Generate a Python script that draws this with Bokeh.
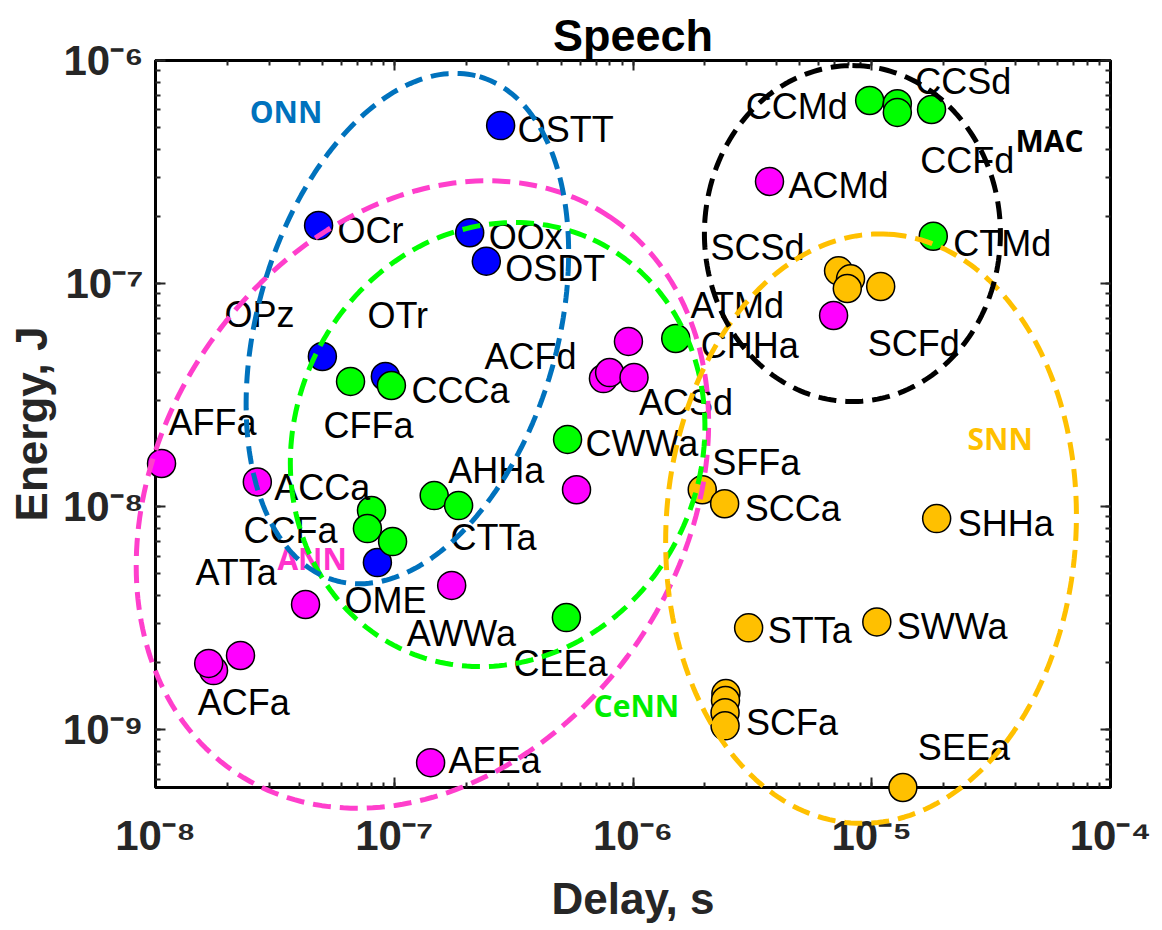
import numpy as np
from bokeh.plotting import figure
from bokeh.models import (ColumnDataSource, Range1d, LogAxis, LogTicker,
                          CustomJSTickFormatter, Label)
from bokeh.core.properties import value
from bokeh.embed import file_html
from bokeh.resources import INLINE

# ---------------- data ----------------
groups = ["ONN", "CeNN", "ANN", "SNN"]
group_colors = ["#0000FF", "#00FF00", "#FF00FF", "#FFC000"]

onn_label = ["OSTT", "OCr", "OOx", "OSDT", "OPz", "OTr", "OME"]
onn_delay = [2.79e-7, 4.82e-8, 2.07e-7, 2.43e-7, 5.0e-8, 9.18e-8, 8.5e-8]
onn_energy = [5.11e-7, 1.82e-7, 1.69e-7, 1.26e-7, 4.71e-8, 3.83e-8, 5.61e-9]

cenn_label = ["CCMd", "CCSd", "CCFd", "", "CTMd", "CHHa", "CFFa", "CCCa",
              "CWWa", "AHHa", "CTTa", "", "CCFa", "", "CEEa"]
cenn_delay = [9.8e-6, 1.28e-5, 1.28e-5, 1.78e-5, 1.81e-5, 1.51e-6, 6.56e-8, 9.73e-8,
              5.32e-7, 1.47e-7, 1.86e-7, 8.03e-8, 7.72e-8, 9.84e-8, 5.26e-7]
cenn_energy = [6.62e-7, 6.4e-7, 5.85e-7, 6.03e-7, 1.63e-7, 5.67e-8, 3.64e-8, 3.49e-8,
               2.0e-8, 1.12e-8, 1.01e-8, 9.6e-9, 7.97e-9, 6.97e-9, 3.18e-9]

ann_label = ["ACMd", "ATMd", "", "", "ACFd", "ACSd", "AFFa", "ACCa",
             "", "AWWa", "ATTa", "", "ACFa", "", "AEEa"]
ann_delay = [3.73e-6, 6.92e-6, 9.57e-7, 7.52e-7, 7.98e-7, 1.01e-6, 1.06e-8, 2.67e-8,
             5.8e-7, 1.74e-7, 4.25e-8, 1.75e-8, 1.67e-8, 2.27e-8, 1.42e-7]
ann_energy = [2.87e-7, 7.19e-8, 5.5e-8, 3.75e-8, 3.99e-8, 3.79e-8, 1.56e-8, 1.29e-8,
              1.19e-8, 4.43e-9, 3.64e-9, 1.84e-9, 1.98e-9, 2.15e-9, 7.11e-10]

snn_label = ["SCSd", "", "", "SCFd", "SFFa", "SCCa", "SHHa", "STTa", "SWWa",
             "", "", "SCFa", "", "SEEa"]
snn_delay = [7.26e-6, 8.15e-6, 7.9e-6, 1.09e-5, 1.95e-6, 2.42e-6, 1.87e-5, 3.05e-6,
             1.05e-5, 2.45e-6, 2.44e-6, 2.43e-6, 2.43e-6, 1.35e-5]
snn_energy = [1.14e-7, 1.05e-7, 9.5e-8, 9.7e-8, 1.19e-8, 1.03e-8, 8.83e-9, 2.86e-9,
              3.04e-9, 1.45e-9, 1.35e-9, 1.19e-9, 1.04e-9, 5.5e-10]

# label placement (pixel offsets from each point's centre)
onn_dx = [17, 19, 19, 19, -98, -18, -33]
onn_dy = [4, 5, 4, 7, -42, -61, 38]
cenn_dx = [-124, 18, 23, 0, 20, 25, -27, 20, 18, 14, -8, 0, -124, 0, -53]
cenn_dy = [6, -22, 48, 0, 7, 7, 44, 5, 4, -25, 32, 0, 2, 0, 46]
ann_dx = [19, -143, 0, 0, -125, 5, 7, 17, 0, -45, -110, 0, -11, 0, 18]
ann_dy = [4, -10, 0, 0, -16, 25, -41, 6, 0, 48, -32, 0, 39, 0, -2]
snn_dx = [-128, 0, 0, -13, 10, 20, 21, 19, 20, 0, 0, 21, 0, 15]
snn_dy = [-23, 0, 0, 57, -27, 5, 5, 3, 5, 0, 0, 10, 0, -40]

# cluster outlines: centre (delay, energy), semi-axes in px, tilt in degrees
ell_names = ["ANN", "CeNN", "ONN", "SNN", "MAC"]
ell_colors = ["#FF3FCC", "#00FF00", "#0072BD", "#FFC000", "#000000"]
ell_cx = [10 ** -6.882, 10 ** -6.567, 10 ** -6.945, 10 ** -5.003, 10 ** -5.081]
ell_cy = [10 ** -7.946, 10 ** -7.722, 10 ** -7.202, 10 ** -8.099, 10 ** -6.776]
ell_a = [335, 226, 262, 295, 168]
ell_b = [261, 203, 150, 205, 148]
ell_phi = [34, 25, 16, 3.4, 0]

# cluster names
glabel_text = ["ONN", "MAC", "ANN", "CeNN", "SNN"]
glabel_x = [2.48e-8, 4.0e-5, 3.24e-8, 6.84e-7, 2.52e-5]
glabel_y = [5.9e-7, 4.38e-7, 5.85e-9, 1.28e-9, 2.02e-8]
glabel_color = ["#0072BD", "#000000", "#FF33CC", "#00EE00", "#FFC000"]

# ---------------- figure ----------------
X0, X1 = 1e-8, 1e-4
Y0, Y1 = 5.5e-10, 1e-6
FW, FH = 955, 727

p = figure(x_axis_type="log", y_axis_type="log",
           x_range=Range1d(X0, X1), y_range=Range1d(Y0, Y1),
           frame_width=FW, frame_height=FH,
           min_border_left=155, min_border_right=52,
           min_border_top=60, min_border_bottom=143,
           output_backend="svg", toolbar_location=None, title="Speech")
p.background_fill_color = "white"
p.border_fill_color = "white"
p.xgrid.visible = False
p.ygrid.visible = False
p.outline_line_color = "#000000"
p.outline_line_width = 3

p.title.align = "center"
p.title.text_font = "Liberation Sans"
p.title.text_font_size = "45px"
p.title.text_font_style = "bold"
p.title.text_color = "#000000"
p.title.standoff = 0

fmt_code = """
const e = Math.round(Math.log10(tick));
const m = {"-":"\u207B","0":"\u2070","1":"\u00B9","2":"\u00B2","3":"\u00B3",
           "4":"\u2074","5":"\u2075","6":"\u2076","7":"\u2077","8":"\u2078","9":"\u2079"};
let s = "";
for (const c of String(e)) { s += m[c]; }
return "10" + s;
"""


def style_axis(ax, labels=True):
    ax.ticker = LogTicker(mantissas=[1], num_minor_ticks=10)
    ax.axis_line_width = 3
    ax.axis_line_color = "#000000"
    ax.major_tick_in = 10
    ax.major_tick_out = 0
    ax.minor_tick_in = 5
    ax.minor_tick_out = 0
    ax.major_tick_line_width = 2
    ax.minor_tick_line_width = 2
    ax.major_tick_line_color = "#262626"
    ax.minor_tick_line_color = "#262626"
    if labels:
        ax.formatter = CustomJSTickFormatter(code=fmt_code)
        ax.major_label_text_font = "Liberation Sans"
        ax.major_label_text_font_size = "42px"
        ax.major_label_text_font_style = "bold"
        ax.major_label_text_color = "#262626"
        ax.axis_label_text_font = "Liberation Sans"
        ax.axis_label_text_font_size = "44px"
        ax.axis_label_text_font_style = "bold"
        ax.axis_label_text_color = "#262626"
    else:
        ax.major_label_text_font_size = "1px"
        ax.major_label_text_alpha = 0
        ax.major_label_standoff = 0


style_axis(p.xaxis[0])
style_axis(p.yaxis[0])
p.xaxis[0].axis_label = "Delay, s"
p.yaxis[0].axis_label = "Energy, J"
p.xaxis[0].major_label_standoff = 24
p.yaxis[0].major_label_standoff = 12
p.xaxis[0].axis_label_standoff = 12
p.yaxis[0].axis_label_standoff = 4

top_ax = LogAxis()
right_ax = LogAxis()
style_axis(top_ax, labels=False)
style_axis(right_ax, labels=False)
p.add_layout(top_ax, "above")
p.add_layout(right_ax, "right")

# ---------------- points ----------------
all_sets = [
    (onn_delay, onn_energy, onn_label, onn_dx, onn_dy, group_colors[0]),
    (cenn_delay, cenn_energy, cenn_label, cenn_dx, cenn_dy, group_colors[1]),
    (ann_delay, ann_energy, ann_label, ann_dx, ann_dy, group_colors[2]),
    (snn_delay, snn_energy, snn_label, snn_dx, snn_dy, group_colors[3]),
]
for d, e, lab, dx, dy, col in all_sets:
    src = ColumnDataSource(dict(x=d, y=e))
    r = p.scatter("x", "y", source=src, size=28, fill_color=col,
                  line_color="#000000", line_width=1.5)
    r.level = "overlay"

lx, ly, lt, ldx, ldy = [], [], [], [], []
for d, e, lab, dx, dy, col in all_sets:
    for i in range(len(d)):
        if lab[i]:
            lx.append(d[i]); ly.append(e[i]); lt.append(lab[i])
            ldx.append(dx[i]); ldy.append(dy[i])
tsrc = ColumnDataSource(dict(x=lx, y=ly, label=lt, dx=ldx, dy=ldy))
t = p.text("x", "y", text="label", source=tsrc, x_offset="dx", y_offset="dy",
           text_font=value("Liberation Sans"), text_font_size="36px",
           text_color="#000000", text_align="left", text_baseline="middle")
t.level = "overlay"

# ---------------- cluster ellipses ----------------
ppx = FW / (np.log10(X1) - np.log10(X0))
ppy = FH / (np.log10(Y1) - np.log10(Y0))
tt = np.linspace(0, 2 * np.pi, 240)
xs, ys = [], []
for cx, cy, a, b, ph in zip(ell_cx, ell_cy, ell_a, ell_b, ell_phi):
    f = np.radians(ph)
    sx = a * np.cos(tt) * np.sin(f) + b * np.sin(tt) * np.cos(f)
    sy_up = a * np.cos(tt) * np.cos(f) - b * np.sin(tt) * np.sin(f)
    xs.append([float(v) for v in 10 ** (np.log10(cx) + sx / ppx)])
    ys.append([float(v) for v in 10 ** (np.log10(cy) + sy_up / ppy)])
esrc = ColumnDataSource(dict(xs=xs, ys=ys, color=ell_colors))
er = p.multi_line("xs", "ys", source=esrc, line_color="color", line_width=5,
                  line_dash="18 9")
er.level = "overlay"

for txt, gx, gy, gc in zip(glabel_text, glabel_x, glabel_y, glabel_color):
    p.add_layout(Label(x=gx, y=gy, text=txt, text_color=gc,
                       text_font="Open Sans", text_font_size="30px",
                       text_font_style="bold", text_align="left",
                       text_baseline="middle"))

open("out.html", "w").write(file_html(p, INLINE))
